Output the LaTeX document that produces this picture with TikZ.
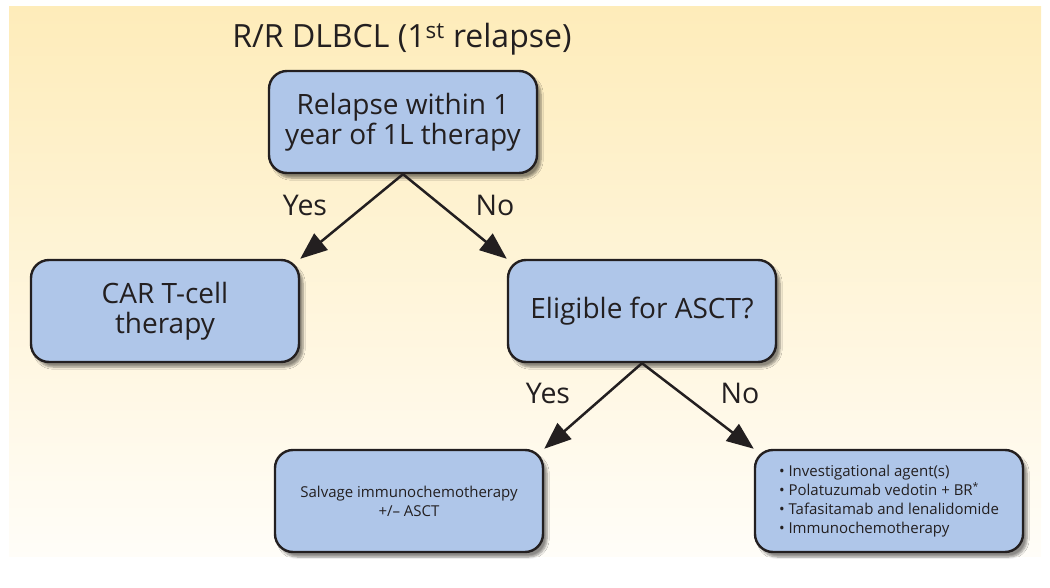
\documentclass[tikz,border=0pt]{standalone}
\usepackage{fontspec}
\setmainfont{Open Sans}
\usetikzlibrary{arrows.meta,shadows.blur}

\definecolor{boxblue}{RGB}{175,198,233}
\definecolor{ink}{RGB}{35,31,32}
\definecolor{paneltop}{RGB}{254,236,186}
\definecolor{panelbot}{RGB}{255,253,248}

\begin{document}
\begin{tikzpicture}[%
    x=1pt, y=-1pt,
    >={Triangle[length=27pt,width=21pt]},
    box/.style={draw=ink, fill=boxblue, line width=2.4pt, rounded corners=18pt,
      minimum width=268pt, minimum height=102pt, align=center, text=ink,
      blur shadow={shadow xshift=4pt, shadow yshift=-5pt, shadow blur steps=6, shadow opacity=45}},
    big/.style={font=\fontsize{28}{30}\selectfont},
    small/.style={font=\fontsize{15}{19}\selectfont},
    lbl/.style={text=ink, font=\fontsize{28.5}{30}\selectfont},
    link/.style={->, draw=ink, line width=2.5pt}
  ]
  \useasboundingbox (0,0) rectangle (1050,588);
  \shade[top color=paneltop, bottom color=panelbot] (9,7) rectangle (1041,556);

  \node[text=ink, font=\fontsize{32}{34}\selectfont] (title) at (402,39) {R/R DLBCL (1\textsuperscript{st} relapse)};

  \node[box,big] (relapse) at (403,122) {Relapse within 1\\year of 1L therapy};
  \node[box,big] (cart) at (165,311) {CAR T-cell\\therapy};
  \node[box,big] (eligible) at (642,311) {Eligible for ASCT?};
  \node[box,small] (salvage) at (409,501) {Salvage immunochemotherapy\\+/– ASCT};
  \node[box,small,align=left] (options) at (889,501)
    {• Investigational agent(s)\\• Polatuzumab vedotin + BR\textsuperscript{*}\\• Tafasitamab and lenalidomide\\• Immunochemotherapy};

  \draw[link] (relapse.south) -- (cart.north east);
  \draw[link] (relapse.south) -- (eligible.north west);
  \draw[link] (eligible.south) -- (salvage.north east);
  \draw[link] (eligible.south) -- (options.north west);

  \node[lbl] (yes1) at (305,205) {Yes};
  \node[lbl] (no1) at (495,205) {No};
  \node[lbl] (yes2) at (548,393) {Yes};
  \node[lbl] (no2) at (740,393) {No};

  \end{tikzpicture}
\end{document}
